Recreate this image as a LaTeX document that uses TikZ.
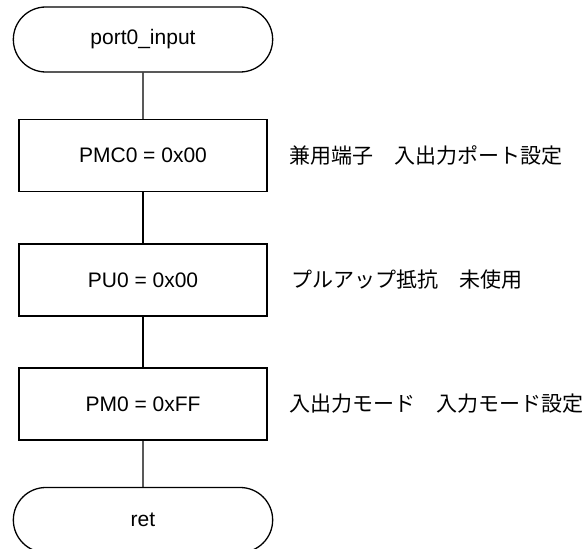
\documentclass[tikz,border=0pt]{standalone}
\usepackage{fontspec}
\setmainfont{Liberation Sans}
\newfontfamily\jpfont{Noto Sans CJK JP}
\usetikzlibrary{shapes.misc}

\tikzset{
  terminal/.style={draw, line width=1.3pt, rounded rectangle, minimum width=266pt, minimum height=65pt, font=\fontsize{21}{25}\selectfont},
  process/.style={draw, line width=1.3pt, rectangle, minimum width=248pt, minimum height=72pt, font=\fontsize{21}{25}\selectfont},
  note/.style={anchor=west, inner sep=0pt, font=\jpfont\fontsize{21}{25}\selectfont},
  flow/.style={line width=1.3pt}
}

\begin{document}
\begin{tikzpicture}[x=1pt,y=1pt]
\useasboundingbox (0,0) rectangle (587,549);

\node[terminal] (start) at (143,509.5) {port0\_input};
\node[process] (pmc) at (143,393.5) {PMC0 = 0x00};
\node[process] (pu) at (143,269) {PU0 = 0x00};
\node[process] (pm) at (143,145) {PM0 = 0xFF};
\node[terminal] (ret) at (143,29) {ret};

\node[note] (pmcnote) at (289,393.5) {兼用端子　入出力ポート設定};
\node[note] (punote) at (291,269) {プルアップ抵抗　未使用};
\node[note] (pmnote) at (289,145) {入出力モード　入力モード設定};

\draw[flow] (start) -- (pmc);
\draw[flow] (pmc) -- (pu);
\draw[flow] (pu) -- (pm);
\draw[flow] (pm) -- (ret);
\end{tikzpicture}
\end{document}
